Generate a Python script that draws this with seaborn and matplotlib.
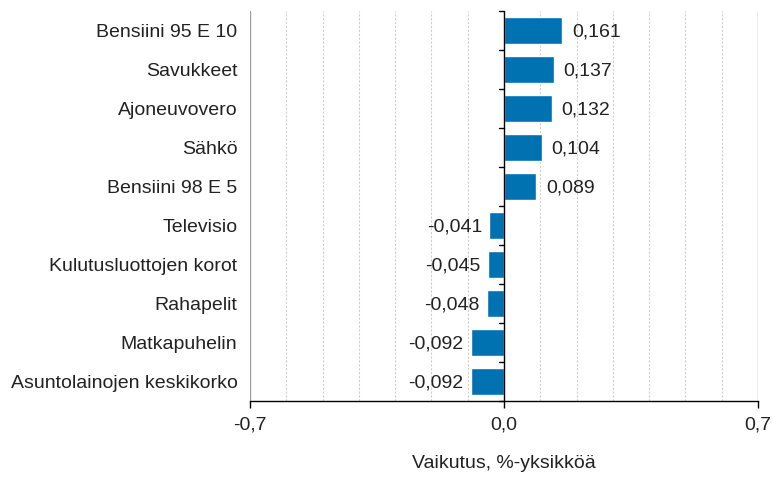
import matplotlib
matplotlib.use("Agg")
import matplotlib.pyplot as plt
import seaborn as sns
import pandas as pd

categories = ["Bensiini 95 E 10", "Savukkeet", "Ajoneuvovero", "Sähkö", "Bensiini 98 E 5",
              "Televisio", "Kulutusluottojen korot", "Rahapelit", "Matkapuhelin",
              "Asuntolainojen keskikorko"]
values = [0.161, 0.137, 0.132, 0.104, 0.089, -0.041, -0.045, -0.048, -0.092, -0.092]
xticks = [-0.7, 0.0, 0.7]
xtick_labels = ["-0,7", "0,0", "0,7"]
xlabel = "Vaikutus, %-yksikköä"

sns.set_theme(style="white")
plt.rcParams['font.family'] = ['Liberation Sans', 'DejaVu Sans']

FS = 14
TXT = "#222222"

df = pd.DataFrame({"cat": categories, "val": values})

fig = plt.figure(figsize=(7.73, 4.78), dpi=100)
ax = fig.add_axes([250/773, 1-401/478, (758-250)/773, (401-11)/478])

for g in [-0.6, -0.5, -0.4, -0.3, -0.2, -0.1, 0.1, 0.2, 0.3, 0.4, 0.5, 0.6]:
    ax.axvline(g, color="#cfcfcf", lw=0.8, ls=(0, (2, 1.5)), zorder=0)
for g in [-0.7, 0.7]:
    ax.axvline(g, color="#a0a0a0", lw=1.0, zorder=0)

sns.barplot(data=df, y="cat", x="val", color="#0072b2", saturation=1, width=0.7,
            orient="h", ax=ax, zorder=2)

ax.set_xlim(-0.7, 0.7)
ax.set_ylim(len(categories) - 0.5, -0.5)

for i, v in enumerate(values):
    txt = f"{v:.3f}".replace(".", ",")
    if v >= 0:
        ax.annotate(txt, (v, i), xytext=(7, -1), textcoords="offset points",
                    va="center", ha="left", fontsize=FS, color=TXT)
    else:
        ax.annotate(txt, (v, i), xytext=(-5, -1), textcoords="offset points",
                    va="center", ha="right", fontsize=FS, color=TXT)

for s in ["top", "right", "left"]:
    ax.spines[s].set_visible(False)
ax.spines["bottom"].set_color("black")
ax.spines["bottom"].set_linewidth(1.0)
ax.axvline(0, color="black", lw=1.0, zorder=3)

ax.set_xticks(xticks)
ax.set_xticklabels(xtick_labels, fontsize=FS, color=TXT)
ax.tick_params(axis="x", direction="out", length=5, width=1, color="black", pad=6, bottom=True)

ax.set_yticks(range(len(categories)))
ax.set_yticklabels(categories, fontsize=FS, color=TXT)
ax.tick_params(axis="y", length=0, pad=9)

for b in [i - 0.5 for i in range(len(categories) + 1)]:
    ax.plot([-0.014, 0], [b, b], color="black", lw=1.0, zorder=3, clip_on=False)

ax.set_ylabel("")
ax.set_xlabel(xlabel, fontsize=FS, color=TXT, labelpad=16)

fig.savefig("out.png", dpi=100)
